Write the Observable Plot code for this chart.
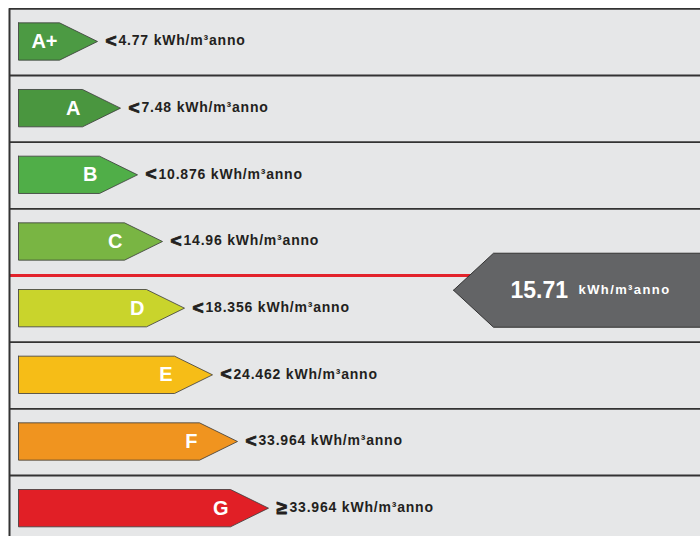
<!DOCTYPE html>
<html>
<head>
<meta charset="utf-8">
<script src="https://cdn.jsdelivr.net/npm/d3@7"></script>
<script src="https://cdn.jsdelivr.net/npm/@observablehq/plot@0.6"></script>
<style>
  html, body { margin: 0; padding: 0; background: #fff; }
  g[aria-description="class-values"] text { letter-spacing: 0.8px; }
  g[aria-description="value-unit"] text { letter-spacing: 1.4px; }
</style>
</head>
<body>
<div id="chart"></div>
<script>
// ---- data ----
const classes = ["A+", "A", "B", "C", "D", "E", "F", "G"];
const thresholds = [4.77, 7.48, 10.876, 14.96, 18.356, 24.462, 33.964, 33.964];
const symbols = ["<", "<", "<", "<", "<", "<", "<", "≥"];
const barLengths = [97, 120, 137, 162, 184, 212, 237, 268];
const colors = ["#4c9a43", "#4a963f", "#50ae48", "#79b543", "#c9d42c", "#f6bd17", "#f0941f", "#e11f26"];
const unit = "kWh/m³anno";
const currentValue = 15.71;

// ---- derived ----
const headLen = 38;     // arrow head length (px units)
const half = 0.28;      // arrow half height (row units)
const yc = i => i + 0.49;
const rows = classes.map((c, i) => ({i, c, t: thresholds[i], s: symbols[i], tip: barLengths[i], color: colors[i]}));

// position of current value: interpolate inside its class row
let ratingIndex = thresholds.findIndex(t => currentValue < t);
if (ratingIndex < 0) ratingIndex = classes.length - 1;
const lo = ratingIndex === 0 ? 0 : thresholds[ratingIndex - 1];
const hi = thresholds[ratingIndex];
const valueY = ratingIndex + (currentValue - lo) / (hi - lo);

const frameLeft = 9;
const barLeft = 18;

const arrowMarks = rows.map(r => {
  const pts = [
    {x: barLeft, y: yc(r.i) - half},
    {x: r.tip - headLen, y: yc(r.i) - half},
    {x: r.tip, y: yc(r.i)},
    {x: r.tip - headLen, y: yc(r.i) + half},
    {x: barLeft, y: yc(r.i) + half},
    {x: barLeft, y: yc(r.i) - half}
  ];
  return Plot.line(pts, {x: "x", y: "y", fill: r.color, stroke: "#3a3a3a", strokeWidth: 0.8});
});

const indTip = 453, indHalf = 0.555;
const indicator = [
  {x: indTip, y: valueY},
  {x: indTip + 40, y: valueY - indHalf},
  {x: 720, y: valueY - indHalf},
  {x: 720, y: valueY + indHalf},
  {x: indTip + 40, y: valueY + indHalf},
  {x: indTip, y: valueY}
];

const sepRows = d3.range(0, classes.length + 1).filter(k => k !== ratingIndex);

const chart = Plot.plot({
  width: 700,
  height: 536,
  margin: 0,
  x: {type: "linear", domain: [0, 700], range: [0, 700], axis: null},
  y: {type: "linear", domain: [0, 8], range: [8.33, 541.67], axis: null},
  style: {background: "#ffffff", fontFamily: "'Liberation Sans', Arial, sans-serif"},
  marks: [
    Plot.rect([0], {x1: frameLeft, x2: 700, y1: 0, y2: classes.length, fill: "#e6e7e8"}),
    Plot.ruleY(sepRows, {x1: frameLeft, x2: 700, stroke: "#333333", strokeWidth: 1.8}),
    Plot.ruleY([ratingIndex], {x1: frameLeft, x2: 480, stroke: "#e3232b", strokeWidth: 3}),
    Plot.ruleX([frameLeft], {y1: 0, y2: classes.length, stroke: "#333333", strokeWidth: 2}),
    ...arrowMarks,
    Plot.text(rows, {x: d => d.tip - headLen - 2, y: d => yc(d.i), text: "c", textAnchor: "end",
      fill: "#ffffff", fontSize: 20, fontWeight: "bold"}),
    Plot.text(rows, {x: d => d.tip + 8, y: d => yc(d.i) - 0.01, text: "s", textAnchor: "start",
      fill: "#231f20", stroke: "#231f20", strokeWidth: 0.9, fontSize: 19, fontWeight: "bold"}),
    Plot.text(rows, {x: d => d.tip + 21, y: d => yc(d.i) - 0.01, text: d => `${d.t} ${unit}`, textAnchor: "start",
      fill: "#231f20", fontSize: 14, fontWeight: "bold", ariaDescription: "class-values"}),
    Plot.line(indicator, {x: "x", y: "y", fill: "#636466", stroke: "#333333", strokeWidth: 1}),
    Plot.text([currentValue], {x: indTip + 57, y: valueY, text: d => d.toFixed(2), textAnchor: "start",
      fill: "#ffffff", fontSize: 23, fontWeight: "bold"}),
    Plot.text([unit], {x: indTip + 125, y: valueY, text: d => d, textAnchor: "start",
      fill: "#ffffff", fontSize: 13, fontWeight: "bold", ariaDescription: "value-unit"})
  ]
});

document.getElementById("chart").appendChild(chart);
</script>
</body>
</html>
